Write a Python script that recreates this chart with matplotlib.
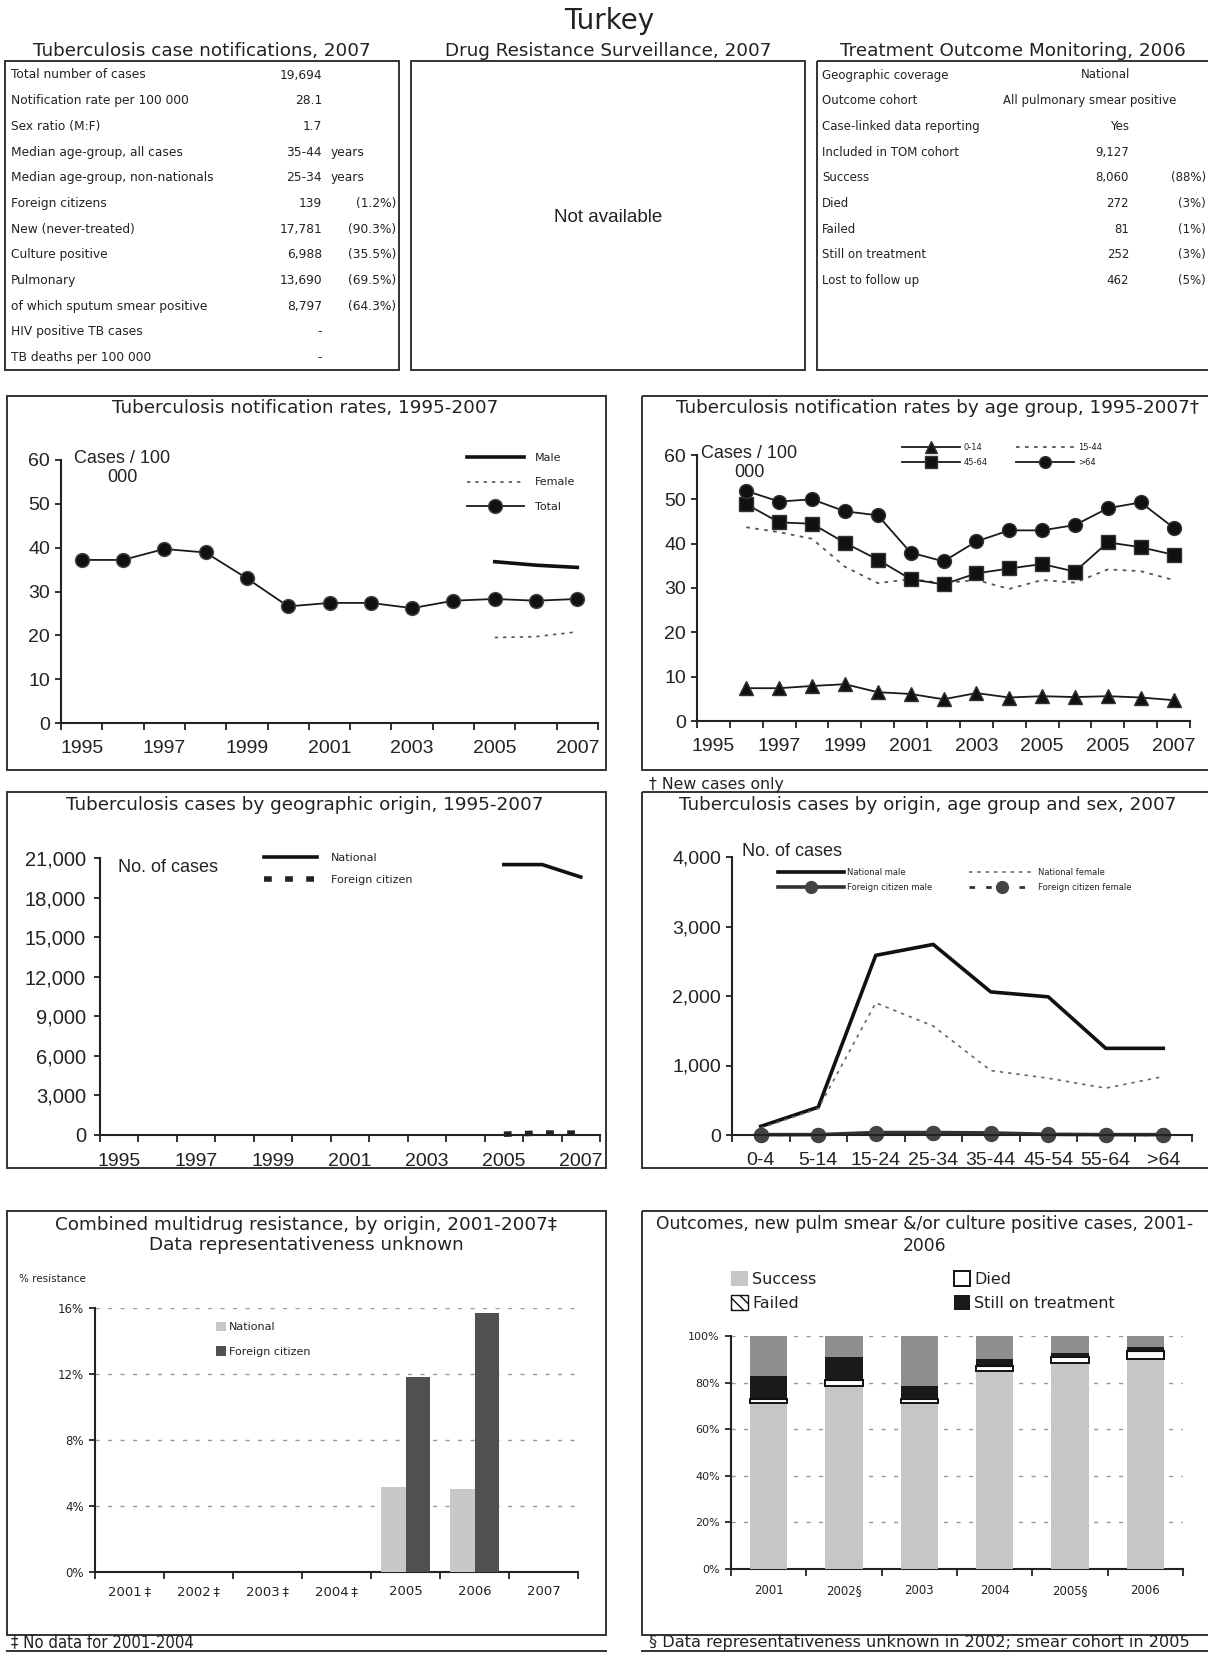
import numpy as np
import matplotlib
matplotlib.use("Agg")
import matplotlib.pyplot as plt
from matplotlib.patches import Rectangle, Patch
from matplotlib.ticker import FixedLocator, NullFormatter, FuncFormatter

NA = np.nan

# ---------------- data ----------------
country = "Turkey"

notif_title = "Tuberculosis case notifications, 2007"
notif_labels = ["Total number of cases", "Notification rate per 100 000", "Sex ratio (M:F)",
                "Median age-group, all cases", "Median age-group, non-nationals",
                "Foreign citizens", "New (never-treated)", "Culture positive", "Pulmonary",
                "of which sputum smear positive", "HIV positive TB cases", "TB deaths per 100 000"]
notif_values = ["19,694", "28.1", "1.7", "35-44", "25-34", "139", "17,781", "6,988",
                "13,690", "8,797", "-", "-"]
notif_units = ["", "", "", "years", "years", "", "", "", "", "", "", ""]
notif_pct = ["", "", "", "", "", "(1.2%)", "(90.3%)", "(35.5%)", "(69.5%)", "(64.3%)", "", ""]

drs_title = "Drug Resistance Surveillance, 2007"
drs_text = "Not available"

tom_title = "Treatment Outcome Monitoring, 2006"
tom_labels = ["Geographic coverage", "Outcome cohort", "Case-linked data reporting",
              "Included in TOM cohort", "Success", "Died", "Failed", "Still on treatment",
              "Lost to follow up"]
tom_values = ["National", "All pulmonary smear positive", "Yes", "9,127", "8,060", "272",
              "81", "252", "462"]
tom_pct = ["", "", "", "", "(88%)", "(3%)", "(1%)", "(3%)", "(5%)"]

rate_years = ["1995", "1996", "1997", "1998", "1999", "2000", "2001", "2002", "2003",
              "2004", "2005", "2006", "2007"]
rate_total = [37.2, 37.2, 39.7, 38.9, 33.0, 26.6, 27.4, 27.4, 26.2, 27.9, 28.3, 27.9, 28.3]
rate_male = [NA, NA, NA, NA, NA, NA, NA, NA, NA, NA, 36.8, 36.0, 35.5]
rate_female = [NA, NA, NA, NA, NA, NA, NA, NA, NA, NA, 19.5, 19.7, 20.8]

agegrp_labels = ["1995", "", "1997", "", "1999", "", "2001", "", "2003", "", "2005", "",
                 "2005", "", "2007"]
age_0_14 = [NA, 7.4, 7.4, 7.9, 8.3, 6.5, 6.1, 4.9, 6.3, 5.3, 5.6, 5.4, 5.6, 5.3, 4.7]
age_15_44 = [NA, 43.7, 42.6, 41.1, 34.8, 31.1, 32.0, 31.1, 31.8, 29.8, 31.8, 31.2, 34.2, 33.8, 31.8]
age_45_64 = [NA, 48.9, 44.8, 44.5, 40.2, 36.4, 32.0, 30.8, 33.3, 34.4, 35.4, 33.7, 40.3, 39.2, 37.5]
age_over64 = [NA, 51.9, 49.5, 50.0, 47.3, 46.4, 38.0, 36.0, 40.5, 43.0, 43.0, 44.2, 48.0, 49.3, 43.6]

geo_years = rate_years
geo_national = [NA, NA, NA, NA, NA, NA, NA, NA, NA, NA, 20500, 20500, 19555]
geo_foreign = [NA, NA, NA, NA, NA, NA, NA, NA, NA, NA, 60, 150, 139]

age_groups = ["0-4", "5-14", "15-24", "25-34", "35-44", "45-54", "55-64", ">64"]
nat_male = [124, 401, 2585, 2742, 2059, 1988, 1247, 1247]
nat_female = [100, 380, 1902, 1567, 927, 817, 674, 841]
for_male = [5, 5, 35, 35, 30, 10, 5, 5]
for_female = [3, 4, 20, 25, 15, 5, 3, 3]

mdr_years = ["2001\u2009\u2021", "2002\u2009\u2021", "2003\u2009\u2021", "2004\u2009\u2021",
             "2005", "2006", "2007"]
mdr_national = [NA, NA, NA, NA, 5.16, 5.04, NA]
mdr_foreign = [NA, NA, NA, NA, 11.8, 15.7, NA]

out_years = ["2001", "2002\u00a7", "2003", "2004", "2005\u00a7", "2006"]
out_success = [71.2, 78.4, 71.3, 84.9, 88.6, 90.3]
out_died = [1.8, 2.6, 1.6, 2.2, 2.5, 3.3]
out_failed = [0.4, 0.4, 0.2, 0.3, 0.2, 0.3]
out_still = [9.6, 9.6, 5.3, 2.9, 1.6, 1.4]
out_other = [17.0, 9.0, 21.6, 9.7, 7.1, 4.7]

# ---------------- layout ----------------
W, H = 1208, 1654
plt.rcParams['font.family'] = ['Liberation Sans', 'DejaVu Sans']
fig = plt.figure(figsize=(W / 100, H / 100), dpi=100)
fig.patch.set_facecolor('white')
bg = fig.add_axes([0, 0, 1, 1], zorder=0)
bg.set_xlim(0, W)
bg.set_ylim(H, 0)
bg.axis('off')

TXT = '#222222'
VER = ['DejaVu Sans']
ARIAL = ['Liberation Sans', 'DejaVu Sans']
TSIZE = 13.2


def box(x0, y0, x1, y1):
    bg.add_patch(Rectangle((x0, y0), x1 - x0, y1 - y0, fill=False, lw=1.4, ec='#333333'))


def t(x, y, s, size, ha='left', family=VER, **kw):
    bg.text(x, y, s, fontsize=size, ha=ha, va='center', family=family, color=TXT, **kw)


def make_ax(x0, y0, x1, y1):
    ax = fig.add_axes([x0 / W, 1 - y1 / H, (x1 - x0) / W, (y1 - y0) / H], zorder=2)
    ax.set_facecolor('none')
    for s in ['top', 'right']:
        ax.spines[s].set_visible(False)
    for s in ['left', 'bottom']:
        ax.spines[s].set_linewidth(1.5)
        ax.spines[s].set_color('#222222')
    return ax


def cat_axis(ax, labels, show_idx, size, family, pad, ysize, yfamily, ypad=4):
    n = len(labels)
    ax.set_xlim(-0.5, n - 0.5)
    ax.xaxis.set_major_locator(FixedLocator(np.arange(-0.5, n, 1.0)))
    ax.xaxis.set_major_formatter(NullFormatter())
    ax.xaxis.set_minor_locator(FixedLocator(show_idx))
    ax.set_xticklabels([labels[i] for i in show_idx], minor=True)
    ax.tick_params(axis='x', which='major', direction='out', length=5, width=1.3, color='#222222')
    ax.tick_params(axis='x', which='minor', length=0, pad=pad, labelsize=size, labelcolor=TXT)
    ax.tick_params(axis='y', direction='out', length=4, width=1.3, color='#222222',
                   pad=ypad, labelsize=ysize, labelcolor=TXT)
    for lab in ax.get_xticklabels(minor=True):
        lab.set_family(family)
    for lab in ax.get_yticklabels():
        lab.set_family(yfamily)


def leg(ax, handles, labels, left, top, size, **kw):
    lg = ax.legend(handles, labels, loc='upper left', bbox_to_anchor=(left / W, 1 - top / H),
                   bbox_transform=fig.transFigure, frameon=False, borderpad=0, borderaxespad=0,
                   prop={'family': VER, 'size': size}, **kw)
    for tx in lg.get_texts():
        tx.set_color(TXT)
    return lg


# title
t(609, 21, country, 20, ha='center')

# --- table 1 ---
box(5, 61, 399, 370)
t(202, 51, notif_title, TSIZE, ha='center')
for i in range(len(notif_labels)):
    y = 75 + i * 25.7
    t(11, y, notif_labels[i], 8.8)
    t(322, y, notif_values[i], 8.8, ha='right')
    if notif_units[i]:
        t(331, y, notif_units[i], 8.8)
    if notif_pct[i]:
        t(396, y, notif_pct[i], 8.8, ha='right')

# --- table 2 ---
box(411, 61, 805, 370)
t(608, 51, drs_title, TSIZE, ha='center')
t(608, 217, drs_text, 13.5, ha='center', family=ARIAL)

# --- table 3 ---
box(817, 61, 1230, 370)
t(1013, 51, tom_title, TSIZE, ha='center')
for i in range(len(tom_labels)):
    y = 75 + i * 25.7
    t(822, y, tom_labels[i], 8.5)
    if i == 0:
        t(1106, y, tom_values[i], 8.5, ha='center')
    elif i == 1:
        t(1090, y, tom_values[i], 8.5, ha='center')
    else:
        t(1129, y, tom_values[i], 8.5, ha='right')
    if tom_pct[i]:
        t(1206, y, tom_pct[i], 8.5, ha='right')

# --- panel boxes ---
box(7, 396, 606, 770)
box(642, 396, 1230, 770)
box(7, 792, 606, 1168)
box(642, 792, 1230, 1168)
box(7, 1211, 606, 1635)
box(642, 1211, 1230, 1635)
bg.plot([7, 606], [1651, 1651], color='#333333', lw=1.4)
bg.plot([642, 1208], [1651, 1651], color='#333333', lw=1.4)

t(305, 408, "Tuberculosis notification rates, 1995-2007", TSIZE, ha='center')
t(937, 408, "Tuberculosis notification rates by age group, 1995-2007\u2020", TSIZE, ha='center')
t(649, 784, "\u2020 New cases only", 11.3)
t(305, 805, "Tuberculosis cases by geographic origin, 1995-2007", TSIZE, ha='center')
t(928, 805, "Tuberculosis cases by origin, age group and sex, 2007", TSIZE, ha='center')
t(306, 1235, "Combined multidrug resistance, by origin, 2001-2007\u2021\nData representativeness unknown",
  TSIZE, ha='center', multialignment='center', linespacing=1.2)
t(925, 1235, "Outcomes, new pulm smear &/or culture positive cases, 2001-\n2006",
  12.3, ha='center', multialignment='center', linespacing=1.28)
t(11, 1642, "\u2021 No data for 2001-2004", 12, stretch='condensed')
t(649, 1642, "\u00a7 Data representativeness unknown in 2002; smear cohort in 2005", 11.6)

# --- chart 1: notification rates ---
ax1 = make_ax(61, 460, 598, 723)
x13 = np.arange(len(rate_years))
l_total, = ax1.plot(x13, rate_total, color='#1a1a1a', lw=1.3, marker='o', ms=10,
                    mfc='#111111', mec='#444444', mew=1, clip_on=False)
l_male, = ax1.plot(x13, rate_male, color='#111111', lw=2.6)
l_female, = ax1.plot(x13, rate_female, color='#555555', lw=1.2, ls=(0, (2, 3)))
ax1.set_ylim(0, 60)
ax1.set_yticks(range(0, 61, 10))
cat_axis(ax1, rate_years, list(range(0, 13, 2)), 14, ARIAL, 12.5, 14, ARIAL)
leg(ax1, [l_male, l_female, l_total], ["Male", "Female", "Total"], 467, 453, 8,
    handlelength=5.1, handletextpad=1.0, labelspacing=1.3)
t(122, 468, "Cases / 100\n000", 13, ha='center', family=ARIAL, multialignment='center',
  linespacing=1.2)

# --- chart 2: rates by age group ---
ax2 = make_ax(697, 455, 1190, 721)
x15 = np.arange(len(agegrp_labels))
h014, = ax2.plot(x15, age_0_14, color='#1a1a1a', lw=1.3, marker='^', ms=10, mfc='#111111',
                 mec='#333333', clip_on=False)
h1544, = ax2.plot(x15, age_15_44, color='#555555', lw=1.3, ls=(0, (2, 3)))
h4564, = ax2.plot(x15, age_45_64, color='#1a1a1a', lw=1.3, marker='s', ms=10, mfc='#111111',
                  mec='#333333', clip_on=False)
h64, = ax2.plot(x15, age_over64, color='#1a1a1a', lw=1.3, marker='o', ms=10, mfc='#111111',
                mec='#333333', clip_on=False)
ax2.set_ylim(0, 60)
ax2.set_yticks(range(0, 61, 10))
cat_axis(ax2, agegrp_labels, list(range(0, 15, 2)), 14, ARIAL, 12, 14, ARIAL)
leg(ax2, [h014, h4564, h1544, h64], ["0-14", "45-64", "15-44", ">64"], 902, 443, 6,
    ncol=2, handlelength=7, handletextpad=0.4, labelspacing=0.75, columnspacing=3.4,
    markerscale=0.85)
t(749, 463, "Cases / 100\n000", 13, ha='center', family=ARIAL, multialignment='center',
  linespacing=1.2)

# --- chart 3: geographic origin ---
ax3 = make_ax(100, 858, 600, 1135)
g_nat, = ax3.plot(x13, geo_national, color='#111111', lw=2.6)
g_for, = ax3.plot(x13, geo_foreign, color='#222222', lw=4, ls=(0, (1.4, 2.4)), clip_on=False)
ax3.set_ylim(0, 21000)
ax3.set_yticks(range(0, 21001, 3000))
ax3.yaxis.set_major_formatter(FuncFormatter(lambda v, p: f"{v:,.0f}"))
cat_axis(ax3, geo_years, list(range(0, 13, 2)), 14, ARIAL, 13, 14.5, ARIAL, ypad=6)
leg(ax3, [g_nat, g_for], ["National", "Foreign citizen"], 264, 853, 8,
    handlelength=4.8, handletextpad=1.2, labelspacing=1.1)
t(118, 868, "No. of cases", 13, family=ARIAL)

# --- chart 4: origin, age group, sex ---
ax4 = make_ax(732, 857, 1192, 1135)
x8 = np.arange(len(age_groups))
o_nm, = ax4.plot(x8, nat_male, color='#111111', lw=2.6)
o_nf, = ax4.plot(x8, nat_female, color='#666666', lw=1.2, ls=(0, (2, 3)))
o_fm, = ax4.plot(x8, for_male, color='#333333', lw=2.6, marker='o', ms=10, mfc='#444444',
                 mec='#444444', clip_on=False)
o_ff, = ax4.plot(x8, for_female, color='#333333', lw=2.0, ls=(0, (2, 4)), marker='o', ms=10,
                 mfc='#444444', mec='#444444', clip_on=False)
ax4.set_ylim(0, 4000)
ax4.set_yticks(range(0, 4001, 1000))
ax4.yaxis.set_major_formatter(FuncFormatter(lambda v, p: f"{v:,.0f}"))
cat_axis(ax4, age_groups, list(range(8)), 14, ARIAL, 12, 14, ARIAL)
leg(ax4, [o_nm, o_fm, o_nf, o_ff],
    ["National male", "Foreign citizen male", "National female", "Foreign citizen female"],
    778, 868, 6, ncol=2, handlelength=7.9, handletextpad=0.4, labelspacing=0.75,
    columnspacing=4.4, markerscale=0.85)
t(742, 852, "No. of cases", 13, family=ARIAL)

# --- chart 5: MDR by origin ---
ax5 = make_ax(95, 1308, 578, 1572)
x7 = np.arange(len(mdr_years))
bw = 0.355
ax5.bar(x7 - bw / 2, mdr_national, width=bw, color='#c8c8c8', zorder=3)
ax5.bar(x7 + bw / 2, mdr_foreign, width=bw, color='#505050', zorder=3)
ax5.set_ylim(0, 16)
ax5.set_yticks([0, 4, 8, 12, 16])
ax5.yaxis.set_major_formatter(FuncFormatter(lambda v, p: f"{v:.0f}%"))
ax5.yaxis.grid(True, ls=(0, (3, 6)), color='#999999', lw=1)
ax5.set_axisbelow(True)
cat_axis(ax5, mdr_years, list(range(7)), 9.5, VER, 9.5, 8.5, VER)
leg(ax5, [Patch(fc='#c8c8c8'), Patch(fc='#505050')], ["National", "Foreign citizen"],
    216, 1322, 8, handlelength=0.9, handleheight=0.9, handletextpad=0.3, labelspacing=1.25)
t(19, 1279, "% resistance", 7.5)

# --- chart 6: treatment outcomes ---
ax6 = make_ax(731, 1336, 1183, 1569)
x6 = np.arange(len(out_years))
ow = 0.5
bottom = np.zeros(len(x6))
ax6.bar(x6, out_success, width=ow, bottom=bottom, color='#c6c6c8', zorder=3)
bottom = bottom + np.array(out_success)
ax6.bar(x6, out_died, width=ow, bottom=bottom, facecolor='white', edgecolor='#111111',
        lw=1.4, zorder=3)
bottom = bottom + np.array(out_died)
ax6.bar(x6, out_failed, width=ow, bottom=bottom, facecolor='white', edgecolor='#111111',
        hatch='\\\\\\', lw=0.8, zorder=3)
bottom = bottom + np.array(out_failed)
ax6.bar(x6, out_still, width=ow, bottom=bottom, color='#1a1a1a', zorder=3)
bottom = bottom + np.array(out_still)
ax6.bar(x6, out_other, width=ow, bottom=bottom, color='#8e8e90', zorder=3)
ax6.set_ylim(0, 100)
ax6.set_yticks(range(0, 101, 20))
ax6.yaxis.set_major_formatter(FuncFormatter(lambda v, p: f"{v:.0f}%"))
ax6.yaxis.grid(True, ls=(0, (3, 6)), color='#999999', lw=1)
ax6.set_axisbelow(True)
cat_axis(ax6, out_years, list(range(6)), 8.5, VER, 10.5, 8, VER)
leg(ax6, [Patch(fc='#c6c6c8'), Patch(fc='white', ec='#111111', hatch='\\\\\\'),
          Patch(fc='white', ec='#111111', lw=1.4), Patch(fc='#1a1a1a')],
    ["Success", "Failed", "Died", "Still on treatment"], 731, 1271, 11.5,
    ncol=2, handlelength=1.05, handleheight=1.05, handletextpad=0.26, labelspacing=0.5,
    columnspacing=8.6)

fig.savefig("out.png", dpi=100, facecolor='white')
